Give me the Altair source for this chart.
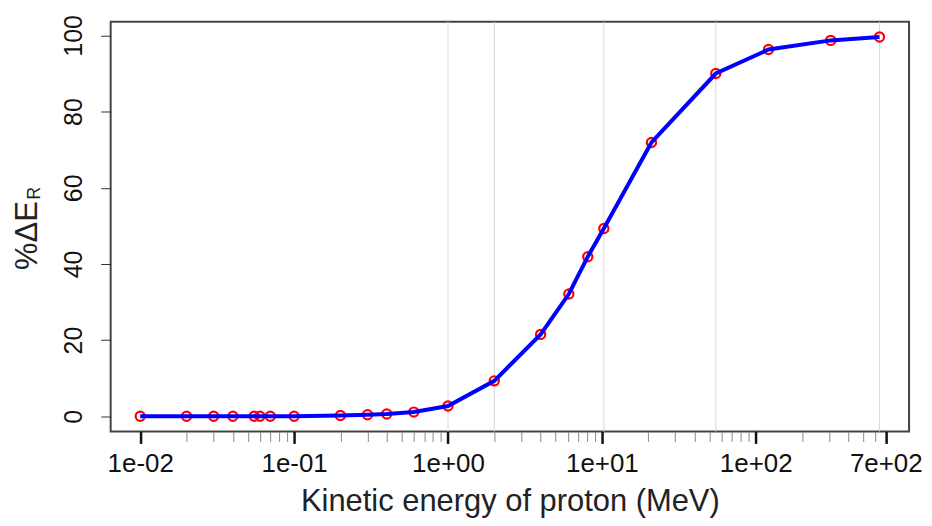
import math
import altair as alt
import pandas as pd

# ---- data ----
energy = [0.01, 0.02, 0.03, 0.04, 0.055, 0.06, 0.07, 0.1, 0.2, 0.3, 0.4, 0.6,
          1.0, 2.0, 4.0, 6.1, 8.1, 10.3, 21.0, 55.0, 121.0, 307.0, 637.0]
pct_dE = [0.0, 0.0, 0.0, 0.0, 0.0, 0.0, 0.0, 0.0, 0.2, 0.4, 0.6, 1.1,
          2.7, 9.3, 21.5, 32.1, 41.9, 49.3, 71.9, 90.0, 96.3, 98.7, 99.6]
grid_energy = [1.0, 2.0, 10.3, 55.0, 637.0]

x_major = [0.01, 0.1, 1, 10, 100, 700]
x_major_labels = ["1e-02", "1e-01", "1e+00", "1e+01", "1e+02", "7e+02"]
x_minor = ([k * 0.01 for k in range(2, 10)] + [k * 0.1 for k in range(2, 10)]
           + [k * 1 for k in range(2, 10)] + [k * 10 for k in range(2, 10)]
           + [k * 100 for k in range(2, 7)])
y_ticks = [0, 20, 40, 60, 80, 100]

x_title = "Kinetic energy of proton (MeV)"
y_title = "%ΔE"
y_title_sub = "R"

# ---- R-style 4% axis extension ----
lx0, lx1 = math.log10(min(energy)), math.log10(max(energy))
ext = 0.04 * (lx1 - lx0)
x_domain = [10 ** (lx0 - ext), 10 ** (lx1 + ext)]
y0, y1 = min(pct_dE), max(pct_dE)
yext = 0.04 * (y1 - y0)
y_domain = [y0 - yext, y1 + yext]

df = pd.DataFrame({"E": energy, "P": pct_dE})
grid_df = pd.DataFrame({"E": grid_energy})

FONT = "Liberation Sans"
W, H = 801, 411

label_expr = " : ".join(
    f"datum.value == {v} ? '{l}'" for v, l in zip(x_major, x_major_labels)
) + " : ''"
major_test = "indexof([" + ",".join(str(v) for v in x_major) + "], datum.value) >= 0"

x_scale = alt.Scale(type="log", domain=x_domain, nice=False, zero=False)
y_scale = alt.Scale(domain=y_domain, nice=False, zero=False)

x_axis = alt.Axis(
    values=x_major + x_minor,
    labelExpr=label_expr,
    title=x_title,
    grid=False,
    domain=False,
    tickSize={"condition": {"test": major_test, "value": 12}, "value": 10},
    tickWidth={"condition": {"test": major_test, "value": 2.5}, "value": 1},
    tickColor={"condition": {"test": major_test, "value": "#111111"}, "value": "#888888"},
    labelFont=FONT, labelFontSize=26, labelColor="#111111",
    labelPadding=7, labelFlush=False, labelOverlap=False,
    titleFont=FONT, titleFontSize=31, titleFontWeight="normal", titleColor="#222222",
    titleBaseline="alphabetic", titleY=79,
)

y_axis = alt.Axis(
    values=y_ticks,
    title=y_title,
    grid=False,
    domain=False,
    tickSize=10, tickColor="#333333", tickWidth=1,
    labelAngle=270, labelAlign="center", labelBaseline="bottom",
    labelFont=FONT, labelFontSize=25, labelColor="#111111", labelPadding=14,
    titleFont=FONT, titleFontSize=31, titleFontWeight="normal", titleColor="#222222",
    titleAngle=270, titleAlign="center", titleBaseline="alphabetic",
    titleX=-74, titleY=214,
)

grid = alt.Chart(grid_df).mark_rule(color="#d9d9d9", strokeWidth=1).encode(
    x=alt.X("E:Q", scale=x_scale, axis=x_axis),
    y=alt.value(0), y2=alt.value(H),
)

points = alt.Chart(df).mark_point(
    shape="circle", filled=False, color="#ff0000", size=85, strokeWidth=2.2, opacity=1
).encode(
    x=alt.X("E:Q", scale=x_scale),
    y=alt.Y("P:Q", scale=y_scale, axis=y_axis),
)

line = alt.Chart(df).mark_line(color="#0000ff", strokeWidth=4).encode(
    x=alt.X("E:Q", scale=x_scale),
    y=alt.Y("P:Q", scale=y_scale),
)

sub = alt.Chart(pd.DataFrame({"t": [y_title_sub]})).mark_text(
    font=FONT, fontSize=18, angle=270, align="center", baseline="alphabetic",
    color="#222222",
).encode(text="t:N", x=alt.value(-71), y=alt.value(172))

chart = alt.layer(grid, points, line, sub).properties(
    width=W, height=H,
    background="white",
    autosize=alt.AutoSizeParams(type="none"),
    padding={"left": 103, "top": 13, "right": 15, "bottom": 86},
).configure_view(stroke="#444444", strokeWidth=2)

chart.save("out.html", embed_options={"renderer": "svg", "actions": False})
